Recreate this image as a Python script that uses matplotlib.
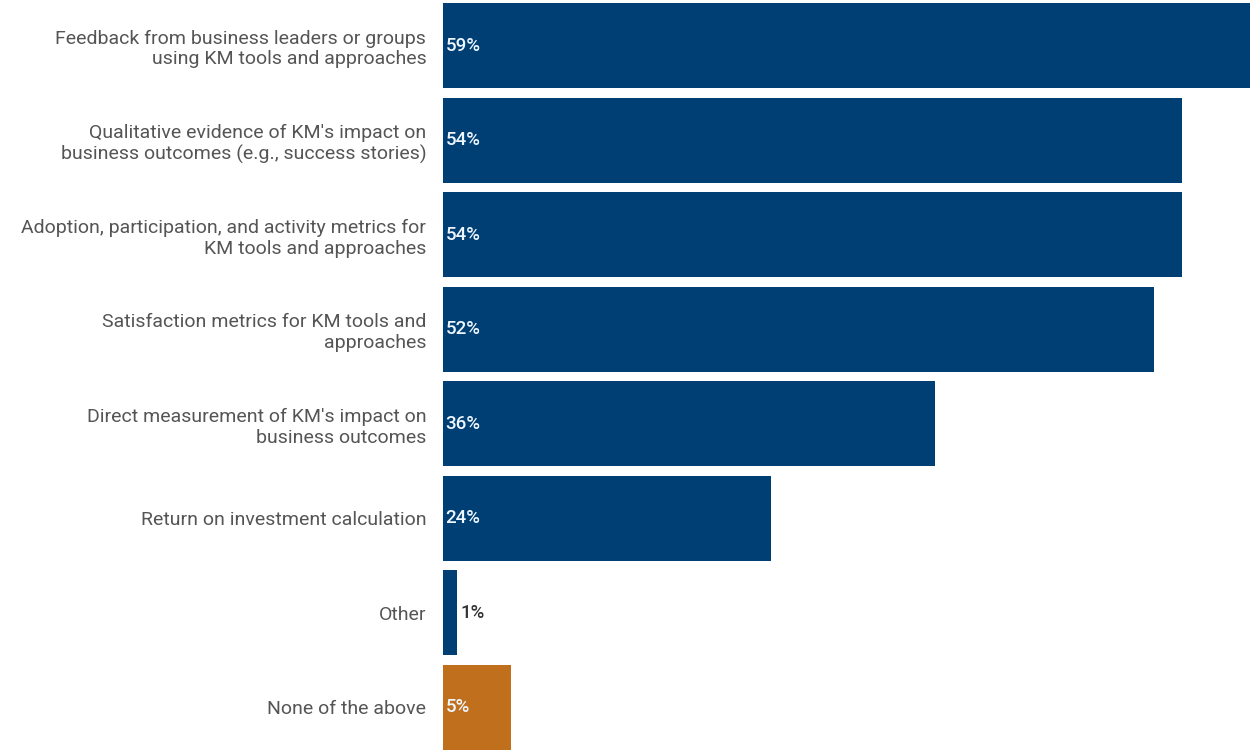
import matplotlib.pyplot as plt

plt.rcParams['font.family'] = ['Roboto', 'DejaVu Sans']

categories = [
    "Feedback from business leaders or groups\nusing KM tools and approaches",
    "Qualitative evidence of KM's impact on\nbusiness outcomes (e.g., success stories)",
    "Adoption, participation, and activity metrics for\nKM tools and approaches",
    "Satisfaction metrics for KM tools and\napproaches",
    "Direct measurement of KM's impact on\nbusiness outcomes",
    "Return on investment calculation",
    "Other",
    "None of the above",
]
values = [59, 54, 54, 52, 36, 24, 1, 5]
colors = ['#003f73'] * 7 + ['#c0701c']

fig = plt.figure(figsize=(12.53, 7.55), dpi=100)
ax = fig.add_axes([443 / 1253, 5 / 755, 807 / 1253, 747 / 755])

ypos = list(range(len(categories)))
ax.barh(ypos, values, height=0.9, color=colors)

for y, v in zip(ypos, values):
    if v >= 3:
        ax.text(0.2, y, f"{v}%", color='#eef6ff', va='center', ha='left',
                fontsize=13.5, fontweight='medium')
    else:
        ax.text(v + 0.3, y, f"{v}%", color='#333333', va='center', ha='left',
                fontsize=13.5, fontweight='medium')

ax.set_xlim(0, 59)
ax.set_ylim(len(categories) - 0.55, -0.45)
ax.set_yticks(ypos)
ax.set_yticklabels(categories, fontsize=14, color='#555555', linespacing=1.2)
ax.tick_params(axis='y', length=0, pad=12)
ax.set_xticks([])
for s in ax.spines.values():
    s.set_visible(False)

fig.savefig('out.png', dpi=100)
